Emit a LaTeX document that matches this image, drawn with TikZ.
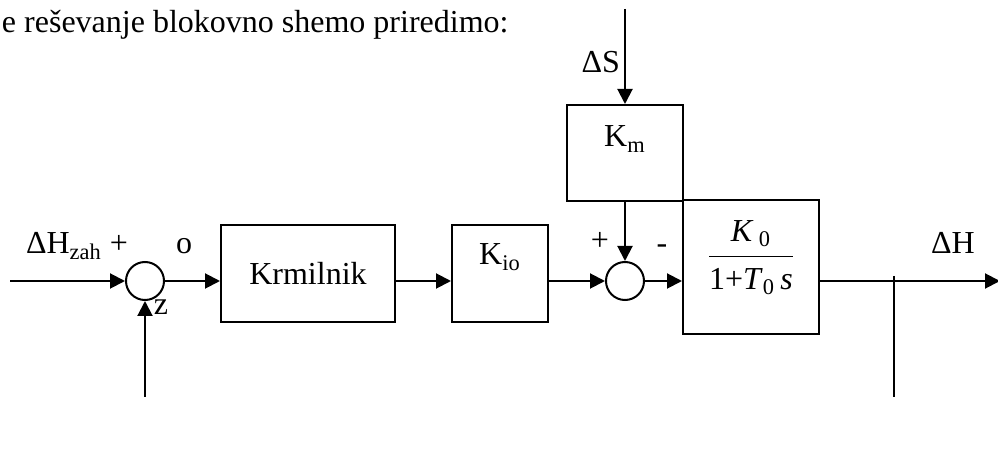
\documentclass[tikz,border=0pt]{standalone}
\usepackage{fontspec}
\setmainfont{Liberation Serif}
\usepackage{xcolor}
\usetikzlibrary{arrows.meta, positioning}

\begin{document}
\begin{tikzpicture}[x=0.5pt, y=-0.5pt, line width=1pt,
      font=\fontsize{16}{19}\selectfont,
      blk/.style={draw, inner sep=0pt, align=center},
      sumnode/.style={draw, circle, minimum size=19pt, inner sep=0pt},
      lbl/.style={inner sep=0pt, anchor=base},
      sig/.style={-{Triangle[length=7.5pt, width=7.5pt]}}]
    \useasboundingbox (0,0) rectangle (998,454);
    \node[lbl, anchor=base west] (title) at (1,33) {e reševanje blokovno shemo priredimo:};
    \node[sumnode] (s1) at (145,281) {};
    \node[blk, minimum width=87pt, minimum height=48.5pt] (krm) at (308,273.5) {Krmilnik};
    \node[blk, minimum width=48pt, minimum height=48.5pt,
          text height=10pt, text depth=18.5pt] (kio) at (500,273.5) {K\textsubscript{io}};
    \node[sumnode] (s2) at (625,281) {};
    \node[blk, minimum width=58pt, minimum height=48pt,
          text height=10pt, text depth=16pt] (km) at (625,153) {K\textsubscript{m}};
    \node[blk, minimum width=68pt, minimum height=67pt] (g) at (751,267) {};
    \node[inner sep=0pt] (gfrac) at (751,258) {\setlength{\arrayrulewidth}{0.5pt}%
      \begin{tabular}{@{}c@{}}
        \textit{K}\,\textsubscript{0}\\[1.5pt] \hline
        \rule{0pt}{16.5pt}1+\textit{T}\textsubscript{0}\,\textit{s}
      \end{tabular}};
    \node[lbl, anchor=base west] (lzah) at (25,254) {ΔH\textsubscript{zah} +};
    \node[lbl] (lo)  at (184,254) {o};
    \node[lbl] (lz)  at (161,315) {z};
    \node[lbl, anchor=base east] (lds) at (621,73) {ΔS};
    \node[lbl] (lpl) at (600,251) {+};
    \node[lbl] (lmi) at (662,254) {-};
    \node[lbl] (ldh) at (953,254) {ΔH};
    \coordinate (in)   at (10,281);
    \coordinate (ds)   at (625,9);
    \coordinate (out)  at (1000,281);
    \coordinate (br)   at (894,276);
    \coordinate (brb)  at (894,397);
    \coordinate (fb)   at (145,397);
    \draw[sig] (in) -- (s1); \draw[sig] (s1) -- (s1 -| krm.west);
    \draw[sig] (krm.east |- s1) -- (kio.west |- s1);
    \draw[sig] (kio.east |- s2) -- (s2); \draw[sig] (s2) -- (s2 -| g.west);
    \draw[sig] (ds) -- (km.north); \draw[sig] (km.south) -- (s2);
    \draw[sig] (g.east |- s2) -- (out); \draw (br) -- (brb);
    \draw[sig] (fb) -- (s1);
  \end{tikzpicture}
\end{document}
